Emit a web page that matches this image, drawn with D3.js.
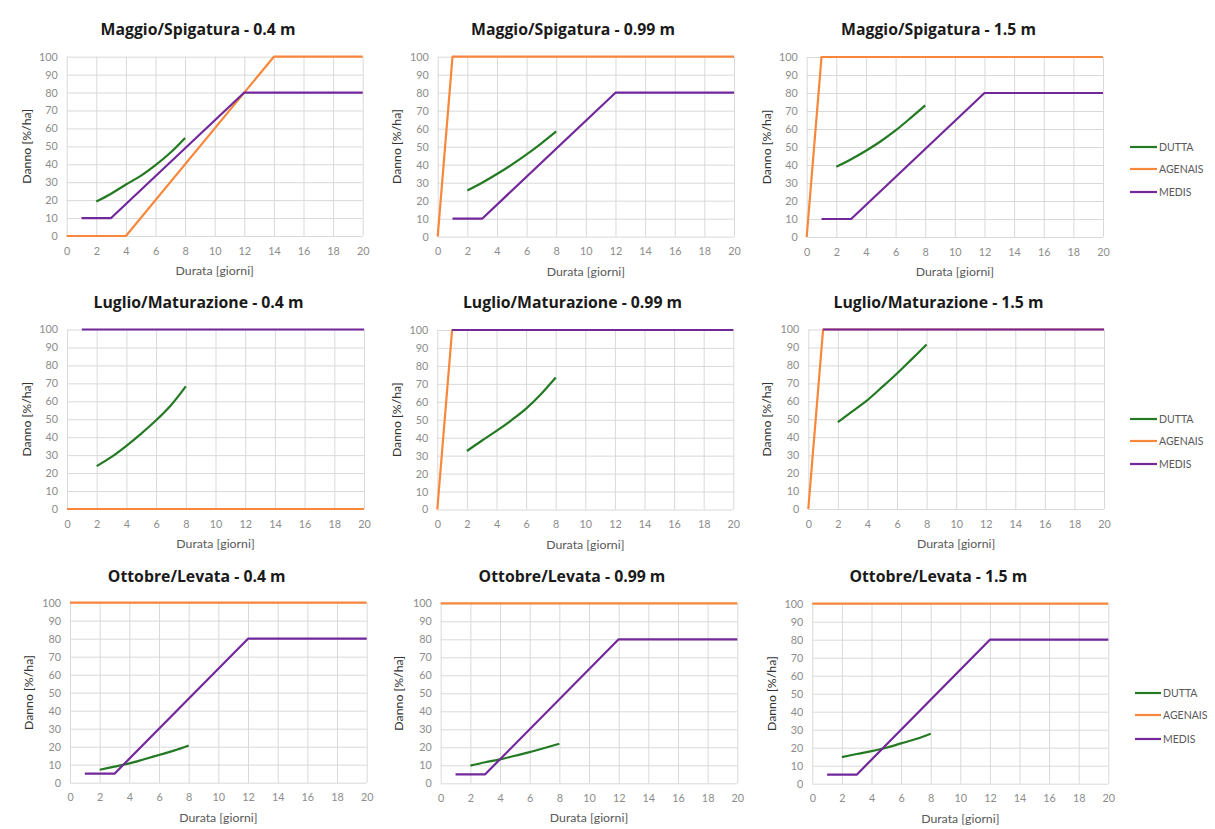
<!DOCTYPE html>
<html>
<head>
<meta charset="utf-8">
<script src="https://cdn.jsdelivr.net/npm/d3@7"></script>
<style>
  body { margin: 0; background: #fff; }
  svg { display: block; }
</style>
</head>
<body>
<svg id="chart" width="1215" height="829"></svg>
<script>
// ---- data ----------------------------------------------------------------
const xTicks = [0, 2, 4, 6, 8, 10, 12, 14, 16, 18, 20];
const yTicks = [0, 10, 20, 30, 40, 50, 60, 70, 80, 90, 100];
const seriesNames = ["DUTTA", "AGENAIS", "MEDIS"];

const panelTitles = [
  "Maggio/Spigatura - 0.4 m", "Maggio/Spigatura - 0.99 m", "Maggio/Spigatura - 1.5 m",
  "Luglio/Maturazione - 0.4 m", "Luglio/Maturazione - 0.99 m", "Luglio/Maturazione - 1.5 m",
  "Ottobre/Levata - 0.4 m", "Ottobre/Levata - 0.99 m", "Ottobre/Levata - 1.5 m"
];

// DUTTA: damage [%/ha] for durations 2..8 days
const duttaDays = [2, 3, 4, 5, 6, 7, 8];
const duttaMaggio04  = [19.2, 23.6, 28.7, 33.5, 39.5, 46.4, 54.7];
const duttaMaggio099 = [25.7, 30.0, 34.8, 40.0, 45.7, 51.9, 58.5];
const duttaMaggio15  = [39.0, 43.2, 47.9, 53.2, 59.2, 66.0, 73.1];
const duttaLuglio04  = [23.9, 29.0, 35.2, 42.0, 49.4, 57.8, 68.3];
const duttaLuglio099 = [32.6, 38.3, 43.8, 49.7, 56.2, 64.2, 73.5];
const duttaLuglio15  = [48.4, 54.5, 60.7, 68.0, 75.5, 83.5, 91.6];
const duttaOttobre04  = [7.2, 8.9, 10.7, 13.0, 15.4, 17.8, 20.7];
const duttaOttobre099 = [9.8, 11.7, 13.3, 15.3, 17.3, 19.6, 22.0];
const duttaOttobre15  = [14.8, 16.5, 18.1, 20.0, 22.4, 24.8, 27.8];

// AGENAIS: breakpoints (days, damage)
const agenaisRampDays  = [0, 4, 14, 20];
const agenaisRampDanno = [0, 0, 100, 100];
const agenaisStepDays  = [0, 1, 20];
const agenaisStepDanno = [0, 100, 100];
const agenaisZeroDays  = [0, 20];
const agenaisZeroDanno = [0, 0];
const agenaisFullDays  = [0, 20];
const agenaisFullDanno = [100, 100];

// MEDIS: breakpoints (days, damage)
const medisMaggioDays  = [1, 3, 12, 20];
const medisMaggioDanno = [10, 10, 80, 80];
const medisLuglioDays  = [1, 20];
const medisLuglioDanno = [100, 100];
const medisOttobreDays  = [1, 3, 12, 20];
const medisOttobreDanno = [5, 5, 80, 80];

const zip = (xs, ys) => xs.map((x, i) => [x, ys[i]]);

const panelSeries = [
  [zip(duttaDays, duttaMaggio04),  zip(agenaisRampDays, agenaisRampDanno), zip(medisMaggioDays, medisMaggioDanno)],
  [zip(duttaDays, duttaMaggio099), zip(agenaisStepDays, agenaisStepDanno), zip(medisMaggioDays, medisMaggioDanno)],
  [zip(duttaDays, duttaMaggio15),  zip(agenaisStepDays, agenaisStepDanno), zip(medisMaggioDays, medisMaggioDanno)],
  [zip(duttaDays, duttaLuglio04),  zip(agenaisZeroDays, agenaisZeroDanno), zip(medisLuglioDays, medisLuglioDanno)],
  [zip(duttaDays, duttaLuglio099), zip(agenaisStepDays, agenaisStepDanno), zip(medisLuglioDays, medisLuglioDanno)],
  [zip(duttaDays, duttaLuglio15),  zip(agenaisStepDays, agenaisStepDanno), zip(medisLuglioDays, medisLuglioDanno)],
  [zip(duttaDays, duttaOttobre04),  zip(agenaisFullDays, agenaisFullDanno), zip(medisOttobreDays, medisOttobreDanno)],
  [zip(duttaDays, duttaOttobre099), zip(agenaisFullDays, agenaisFullDanno), zip(medisOttobreDays, medisOttobreDanno)],
  [zip(duttaDays, duttaOttobre15),  zip(agenaisFullDays, agenaisFullDanno), zip(medisOttobreDays, medisOttobreDanno)]
];

// ---- layout & style ------------------------------------------------------
const colors = { DUTTA: "#237a23", AGENAIS: "#f7873a", MEDIS: "#72289a" };

// plot rectangles [left, right, top, bottom] per panel
const frames = [
  [66.7, 362.7, 56.7, 236], [437.7, 734, 56.7, 236.7], [806.7, 1103, 57, 237],
  [67, 364, 329.5, 509],    [437.3, 733.3, 330, 509.5], [808.3, 1104, 329.5, 509],
  [70, 366.7, 602.7, 782.7], [440.7, 737.3, 603.3, 783.3], [812.3, 1108.3, 603.7, 783.7]
];
const titleCenters = [198, 573, 938.5, 198.5, 572.5, 938.5, 196.7, 572, 938.3];
const titleBaselines = [35, 35, 35, 308, 308, 308, 582, 582, 582];
const yTitleX = [27, 397, 767, 27, 397, 767, 29, 399, 772];
// legend placement for the right-hand column
const legends = {
  2: { x0: 1130, x1: 1157, ys: [147, 169, 192] },
  5: { x0: 1130, x1: 1157, ys: [419, 441, 464] },
  8: { x0: 1135, x1: 1161, ys: [693, 715, 739] }
};

const svg = d3.select("#chart");
const FONT = "Lato, 'Open Sans', sans-serif";
const TITLE_FONT = "'Open Sans', Lato, sans-serif";

panelSeries.forEach((series, i) => {
  const [l, r, t, b] = frames[i];
  const x = d3.scaleLinear().domain([0, 20]).range([l, r]);
  const y = d3.scaleLinear().domain([0, 100]).range([b, t]);
  const g = svg.append("g");

  // gridlines
  g.append("g")
    .attr("transform", `translate(0,${b})`)
    .call(d3.axisBottom(x).tickValues(xTicks).tickSize(-(b - t)).tickFormat(""))
    .call(s => s.select(".domain").remove())
    .call(s => s.selectAll("line").attr("stroke", "#d9d9d9").attr("stroke-width", 1));
  g.append("g")
    .attr("transform", `translate(${l},0)`)
    .call(d3.axisLeft(y).tickValues(yTicks).tickSize(-(r - l)).tickFormat(""))
    .call(s => s.select(".domain").remove())
    .call(s => s.selectAll("line").attr("stroke", "#d9d9d9").attr("stroke-width", 1));

  // tick labels
  g.append("g")
    .attr("transform", `translate(0,${b})`)
    .call(d3.axisBottom(x).tickValues(xTicks).tickSize(0).tickPadding(11))
    .call(s => s.select(".domain").remove())
    .call(s => s.selectAll("text").attr("fill", "#8c8c8c").attr("font-size", 10.8).attr("font-family", FONT));
  g.append("g")
    .attr("transform", `translate(${l},0)`)
    .call(d3.axisLeft(y).tickValues(yTicks).tickSize(0).tickPadding(9))
    .call(s => s.select(".domain").remove())
    .call(s => s.selectAll("text").attr("fill", "#8c8c8c").attr("font-size", 10.8).attr("font-family", FONT));

  // series lines
  const line = d3.line().x(d => x(d[0])).y(d => y(d[1]));
  series.forEach((pts, k) => {
    const name = seriesNames[k];
    g.append("path")
      .datum(pts)
      .attr("fill", "none")
      .attr("stroke", colors[name])
      .attr("stroke-width", 2.2)
      .attr("stroke-linejoin", "round")
      .attr("d", k === 0 ? line.curve(d3.curveCatmullRom.alpha(0.5))(pts) : line.curve(d3.curveLinear)(pts));
  });

  // titles
  g.append("text")
    .attr("x", titleCenters[i]).attr("y", titleBaselines[i])
    .attr("text-anchor", "middle")
    .attr("font-family", TITLE_FONT).attr("font-weight", "bold").attr("font-size", 15.8)
    .attr("fill", "#1a1a1a")
    .text(panelTitles[i]);
  g.append("text")
    .attr("x", (l + r) / 2).attr("y", b + 39)
    .attr("text-anchor", "middle")
    .attr("font-family", FONT).attr("font-size", 12.3).attr("fill", "#595959")
    .text("Durata [giorni]");
  g.append("text")
    .attr("transform", `translate(${yTitleX[i] + 4},${(t + b) / 2}) rotate(-90)`)
    .attr("text-anchor", "middle")
    .attr("font-family", FONT).attr("font-size", 12.3).attr("fill", "#333333")
    .text("Danno [%/ha]");

  // legend
  const lg = legends[i];
  if (lg) {
    seriesNames.forEach((name, k) => {
      g.append("line")
        .attr("x1", lg.x0).attr("x2", lg.x1)
        .attr("y1", lg.ys[k]).attr("y2", lg.ys[k])
        .attr("stroke", colors[name]).attr("stroke-width", 2.2);
      g.append("text")
        .attr("x", lg.x1 + 2).attr("y", lg.ys[k]).attr("dy", "0.35em")
        .attr("font-family", FONT).attr("font-size", 10.5).attr("fill", "#595959")
        .text(name);
    });
  }
});
</script>
</body>
</html>
